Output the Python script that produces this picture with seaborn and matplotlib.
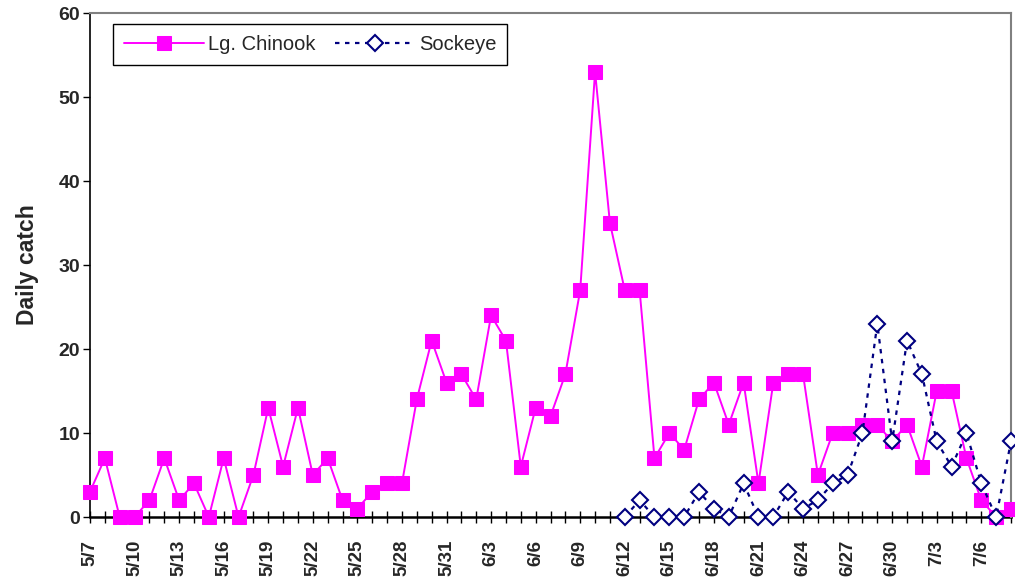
import numpy as np
import pandas as pd
import matplotlib
matplotlib.use("Agg")
import matplotlib.pyplot as plt
import seaborn as sns

# Daily catch, 5/7 through 7/8
dates = pd.date_range("2000-05-07", "2000-07-08", freq="D")
chinook = [3, 7, 0, 0, 2, 7, 2, 4, 0, 7, 0, 5, 13, 6, 13, 5, 7, 2, 1, 3, 4, 4,
           14, 21, 16, 17, 14, 24, 21, 6, 13, 12, 17, 27, 53, 35, 27, 27, 7, 10,
           8, 14, 16, 11, 16, 4, 16, 17, 17, 5, 10, 10, 11, 11, 9, 11, 6, 15, 15,
           7, 2, 0, 1]
# Sockeye counts begin on 6/12
sockeye_start = "2000-06-12"
sockeye = [0, 2, 0, 0, 0, 3, 1, 0, 4, 0, 0, 3, 1, 2, 4, 5, 10, 23, 9, 21, 17,
           9, 6, 10, 4, 0, 9]
tick_step = 3
y_ticks = [0, 10, 20, 30, 40, 50, 60]

day = np.arange(len(dates))
df_ch = pd.DataFrame({"day": day, "catch": chinook})
s0 = int((pd.Timestamp(sockeye_start) - dates[0]).days)
df_so = pd.DataFrame({"day": np.arange(s0, s0 + len(sockeye)), "catch": sockeye})
labels = [f"{d.month}/{d.day}" if i % tick_step == 0 else "" for i, d in enumerate(dates)]

sns.set_style("white")
plt.rcParams["font.family"] = ["Liberation Sans", "DejaVu Sans"]

W, H = 1015, 577
fig = plt.figure(figsize=(W / 100, H / 100), dpi=100)
ax = fig.add_axes([90 / W, 1 - 517 / H, (1011 - 90) / W, (517 - 13) / H])

sns.lineplot(data=df_ch, x="day", y="catch", ax=ax, color="#FF00FF", lw=1.4,
             marker="s", markersize=9.5, markerfacecolor="#FF00FF",
             markeredgecolor="#FF00FF", label="Lg. Chinook", clip_on=False,
             zorder=3)
sns.lineplot(data=df_so, x="day", y="catch", ax=ax, color="#000080", lw=1.6,
             dashes=False, linestyle=(0, (2, 2.5)),
             marker="D", markersize=8.5, markerfacecolor="white",
             markeredgecolor="#000080", markeredgewidth=1.5,
             label="Sockeye", clip_on=False, zorder=4)

ax.set_xlim(0, len(dates) - 1)
ax.set_ylim(0, 60)
ax.set_xticks(day)
ax.set_xticklabels(labels, rotation=90, fontsize=13.5, fontweight="bold")
ax.set_yticks(y_ticks)
ax.set_yticklabels([str(v) for v in y_ticks], fontsize=14, fontweight="bold")
ax.tick_params(axis="x", direction="inout", length=9, width=1, color="black",
               pad=12, bottom=True)
ax.tick_params(axis="y", direction="out", length=5, width=1, color="black",
               pad=2, left=True)
ax.set_xlabel("")
ax.set_ylabel("Daily catch", fontsize=16.5, fontweight="bold", labelpad=14)

for side in ("top", "right"):
    ax.spines[side].set_color("#808080")
    ax.spines[side].set_linewidth(1.5)
ax.spines["left"].set_color("black")
ax.spines["left"].set_linewidth(1.2)
ax.spines["bottom"].set_color("black")
ax.spines["bottom"].set_linewidth(1.8)
ax.spines["bottom"].set_zorder(2)

leg = ax.legend(loc="upper left", bbox_to_anchor=(113 / W, 1 - 24 / H),
                bbox_transform=fig.transFigure, borderaxespad=0, ncol=2,
                fontsize=14.5, frameon=True, fancybox=False, framealpha=1,
                edgecolor="black", handlelength=3.95, handletextpad=0.2,
                columnspacing=1.0, borderpad=0.55)
leg.get_frame().set_linewidth(1.0)

fig.savefig("out.png", dpi=100)
